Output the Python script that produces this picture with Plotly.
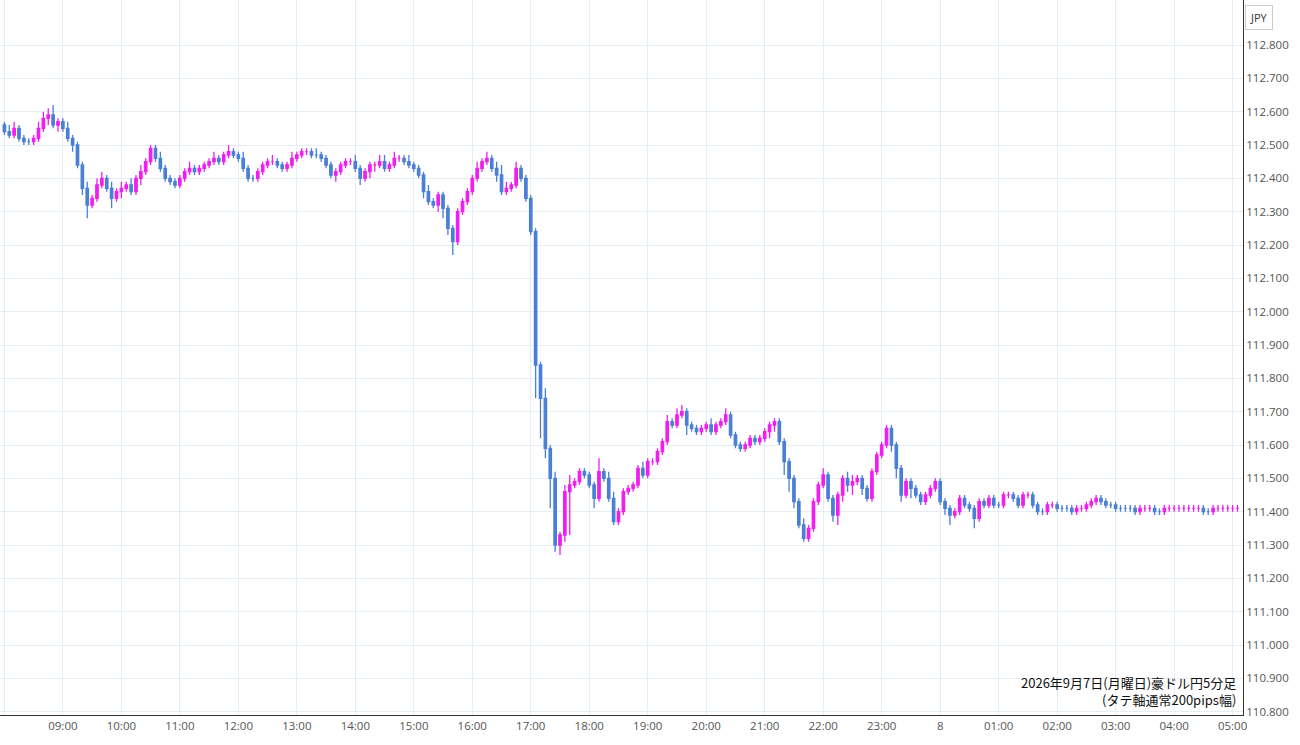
import plotly.graph_objects as go
import pandas as pd

start = "2026-09-07 08:00"
first_open = 112.56
closes = [
 112.54,112.53,112.55,112.52,112.51,112.51,112.52,112.55,112.58,112.59,112.56,112.57,
 112.55,112.52,112.50,112.44,112.37,112.32,112.34,112.38,112.40,112.37,112.34,112.36,
 112.37,112.38,112.36,112.40,112.42,112.45,112.49,112.46,112.43,112.40,112.39,112.38,
 112.40,112.42,112.43,112.42,112.43,112.44,112.45,112.46,112.45,112.47,112.48,112.47,
 112.46,112.43,112.40,112.40,112.42,112.44,112.45,112.45,112.44,112.43,112.44,112.46,
 112.47,112.48,112.48,112.47,112.47,112.46,112.44,112.41,112.42,112.44,112.45,112.45,
 112.43,112.40,112.42,112.44,112.44,112.45,112.43,112.44,112.46,112.46,112.45,112.44,
 112.43,112.41,112.36,112.33,112.32,112.35,112.31,112.25,112.21,112.30,112.33,112.36,
 112.40,112.43,112.45,112.46,112.43,112.41,112.36,112.37,112.38,112.43,112.40,112.34,
 112.24,111.84,111.74,111.59,111.50,111.30,111.33,111.46,111.48,111.49,111.52,111.51,
 111.48,111.44,111.52,111.50,111.44,111.37,111.40,111.46,111.47,111.48,111.53,111.51,
 111.55,111.55,111.58,111.61,111.67,111.66,111.69,111.70,111.66,111.65,111.64,111.65,
 111.66,111.64,111.66,111.67,111.69,111.63,111.60,111.59,111.60,111.62,111.61,111.62,
 111.64,111.66,111.67,111.61,111.55,111.50,111.43,111.36,111.32,111.35,111.43,111.48,
 111.51,111.44,111.39,111.45,111.50,111.48,111.49,111.50,111.47,111.44,111.52,111.57,
 111.60,111.65,111.60,111.53,111.45,111.49,111.47,111.45,111.43,111.45,111.47,111.49,
 111.43,111.41,111.39,111.40,111.44,111.42,111.41,111.38,111.43,111.42,111.44,111.42,
 111.42,111.45,111.45,111.44,111.42,111.45,111.45,111.42,111.40,111.40,111.42,111.42,
 111.41,111.41,111.41,111.40,111.41,111.41,111.42,111.43,111.44,111.43,111.42,111.42,
 111.41,111.41,111.41,111.41,111.40,111.41,111.41,111.41,111.40,111.40,111.41,111.41,
 111.41,111.41,111.41,111.41,111.41,111.41,111.40,111.40,111.41,111.41,111.41,111.41,
 111.41,111.41,
]
# upper / lower wick lengths in pips (0.01)
wick_up = [
 1,2,2,1,1,1,1,2,2,2,3,1,
 1,2,1,1,1,2,1,2,2,1,2,1,
 2,1,2,1,2,1,1,1,2,1,1,1,
 1,1,2,1,1,1,1,2,1,1,2,1,
 1,2,1,1,1,1,1,2,1,1,1,2,
 1,1,1,1,2,1,1,1,1,1,1,1,
 2,1,1,1,1,2,2,1,2,1,1,2,
 1,1,1,2,1,1,1,1,1,1,1,1,
 1,2,1,2,1,2,3,2,1,2,1,1,
 1,1,1,3,1,2,1,2,3,1,1,1,
 1,1,4,1,2,2,1,1,1,1,1,2,
 1,1,1,1,2,1,2,2,1,1,1,1,
 1,2,1,1,2,1,1,1,1,1,1,1,
 1,1,1,1,1,1,1,1,2,1,1,1,
 2,1,1,1,1,2,2,1,1,1,1,1,
 1,1,1,1,1,1,1,1,1,1,1,1,
 1,1,1,1,1,1,1,1,1,1,1,1,
 1,1,1,1,1,1,1,1,1,1,1,1,
 1,1,1,1,1,1,1,1,1,1,1,1,
 1,1,1,1,1,1,1,1,1,1,1,1,
 1,1,1,1,1,1,1,1,1,1,1,1,
 1,1,
]
wick_dn = [
 1,1,1,1,1,1,1,1,1,2,1,2,
 1,1,2,1,2,4,1,1,1,1,3,1,
 2,1,1,1,2,1,1,1,1,1,1,1,
 1,1,1,1,1,1,1,1,1,1,1,1,
 1,1,1,1,1,1,1,1,1,1,1,1,
 1,1,1,1,1,1,1,1,2,1,1,1,
 1,2,1,2,2,1,1,1,1,1,1,1,
 1,1,2,1,1,2,3,2,4,1,1,1,
 1,1,1,1,1,2,1,1,1,1,1,1,
 1,10,12,3,9,2,3,2,13,1,1,1,
 1,3,1,1,1,1,1,1,1,1,1,1,
 1,1,1,1,1,1,1,1,3,1,1,1,
 1,1,1,1,1,1,1,1,1,1,1,1,
 1,2,2,1,4,4,2,1,1,1,1,1,
 1,1,2,3,2,2,3,1,2,1,1,1,
 1,1,2,3,2,1,3,1,1,1,1,1,
 1,2,3,1,1,1,1,3,1,1,1,1,
 1,1,1,1,1,1,1,1,1,1,1,1,
 1,1,1,1,1,1,1,1,1,1,1,1,
 1,1,1,1,1,1,1,1,1,1,1,1,
 1,1,1,1,1,1,1,1,1,1,1,1,
 1,1,
]
tick_vals = ["2026-09-07 %02d:00" % h for h in range(8, 24)] + ["2026-09-08 %02d:00" % h for h in range(0, 6)]
tick_text = ["08:00","09:00","10:00","11:00","12:00","13:00","14:00","15:00","16:00","17:00",
             "18:00","19:00","20:00","21:00","22:00","23:00","8","01:00","02:00","03:00","04:00","05:00"]
y_ticks = [110.8 + 0.1 * i for i in range(21)]

n = len(closes)
times = pd.date_range(start, periods=n, freq="5min")
opens = [first_open] + closes[:-1]
highs = [max(o, c) + u / 100 for o, c, u in zip(opens, closes, wick_up[:n])]
lows = [min(o, c) - d / 100 for o, c, d in zip(opens, closes, wick_dn[:n])]

up_c, dn_c = "#f01ef0", "#4a7fd6"
fig = go.Figure(go.Candlestick(
    x=times, open=opens, high=highs, low=lows, close=closes,
    increasing=dict(line=dict(color=up_c, width=1.3), fillcolor=up_c),
    decreasing=dict(line=dict(color=dn_c, width=1.3), fillcolor=dn_c),
    whiskerwidth=0, showlegend=False))

fig.update_layout(
    width=1300, height=745, margin=dict(l=0, r=57, t=0, b=30),
    plot_bgcolor="white", paper_bgcolor="white",
    font=dict(family="Open Sans, Noto Sans CJK JP", size=11, color="#555"),
    xaxis=dict(rangeslider=dict(visible=False), range=["2026-09-07 07:55:30", "2026-09-08 05:10:40"],
               tickvals=tick_vals, ticktext=tick_text, showgrid=True, gridcolor="#e6eef5",
               showline=True, linecolor="#333", ticks="", tickfont=dict(size=11.5, color="#555")),
    yaxis=dict(side="right", range=[110.79, 112.935], tickvals=y_ticks, tickformat=".3f",
               showgrid=True, gridcolor="#e6eef5", showline=True, linecolor="#333",
               ticks="", tickfont=dict(size=11.5, color="#555"), zeroline=False),
    annotations=[
        dict(xref="paper", yref="paper", x=0.996, y=0.005, xanchor="right", yanchor="bottom",
             align="right", showarrow=False,
             text="2026年9月7日(月曜日)豪ドル円5分足<br>(タテ軸通常200pips幅)",
             font=dict(family="Noto Sans CJK JP", size=13, color="#111")),
        dict(xref="paper", yref="paper", x=1.002, y=0.993, xanchor="left", yanchor="top",
             showarrow=False, text="JPY", bordercolor="#ccc", borderwidth=1, borderpad=4,
             font=dict(size=11, color="#333")),
    ],
)
fig.write_html("out.html", config={"displayModeBar": False})
with open("out.html", encoding="utf-8") as f:
    html = f.read()
html = html.replace("<head>", "<head><style>body{margin:0;overflow:hidden}</style>", 1)
with open("out.html", "w", encoding="utf-8") as f:
    f.write(html)
